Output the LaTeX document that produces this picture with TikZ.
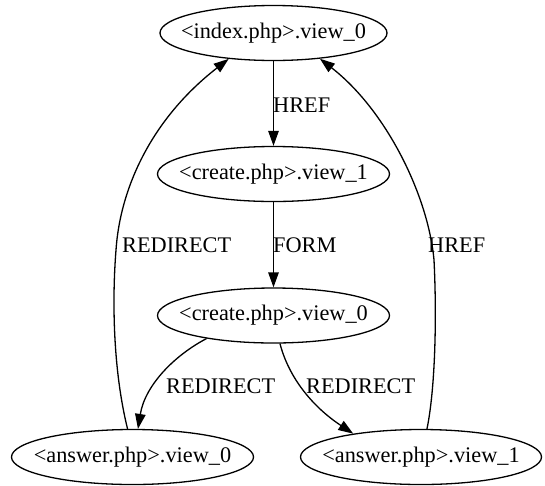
\documentclass[tikz,border=0pt]{standalone}
\usepackage{fontspec}
\setmainfont{LiberationSerif}[Extension=.ttf,UprightFont=*-Regular]
\usetikzlibrary{arrows.meta,shapes.geometric}
\begin{document}
\begin{tikzpicture}[x=1pt,y=-1pt,
  state/.style={ellipse,draw,line width=1.3pt,inner sep=0pt,minimum height=55pt,font=\fontsize{22.3}{26}\selectfont},
  lbl/.style={anchor=base west,inner sep=0pt,font=\fontsize{22.3}{26}\selectfont},
  edge/.style={line width=1.3pt,-{Triangle[length=15pt,width=10.5pt]}}]
\useasboundingbox (0,0) rectangle (545,485);
\node[state,minimum width=227pt] (i0) at (273.5,33) {\makebox[0pt]{<index.php>.view\_0}};
\node[state,minimum width=232pt] (c1) at (273.5,174) {\makebox[0pt]{<create.php>.view\_1}};
\node[state,minimum width=232pt] (c0) at (273.5,315.5) {\makebox[0pt]{<create.php>.view\_0}};
\node[state,minimum width=242pt] (a0) at (132.5,457) {\makebox[0pt]{<answer.php>.view\_0}};
\node[state,minimum width=241pt] (a1) at (421,457) {\makebox[0pt]{<answer.php>.view\_1}};

\draw[edge] (i0.south) -- (c1.north);
\node[lbl] (l1) at (273,112) {HREF};
\draw[edge] (c1.south) -- (c0.north);
\node[lbl] (l2) at (273,252) {FORM};
\draw[edge] (c0.-161) .. controls (175,355) and (145,385) .. (a0.79);
\node[lbl] (l3) at (166,393) {REDIRECT};
\draw[edge] (c0.-77) .. controls (288,375) and (310,405) .. (a1.161);
\node[lbl] (l4) at (306,393) {REDIRECT};
\draw[edge] (a0.100) .. controls (113,370) and (112,300) .. (116,250) .. controls (120,190) and (150,120) .. (i0.-150);
\node[lbl] (l5) at (122,252) {REDIRECT};
\draw[edge] (a1.78) .. controls (435,390) and (437,320) .. (434,260) .. controls (428,195) and (386,110) .. (i0.-29);
\node[lbl] (l6) at (428,252) {HREF};
\end{tikzpicture}
\end{document}
